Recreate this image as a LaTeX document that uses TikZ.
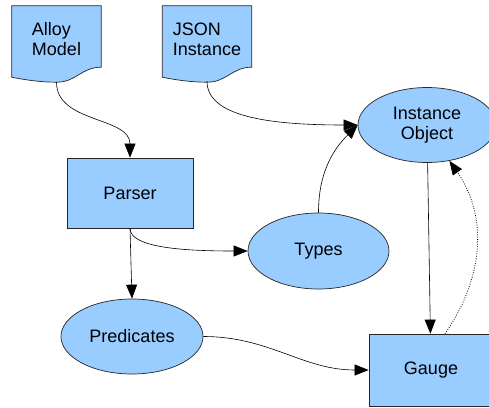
\documentclass[tikz,border=0pt]{standalone}
\usepackage{fontspec}
\setmainfont{Liberation Sans}
\usetikzlibrary{shapes.geometric,arrows.meta,backgrounds}
\definecolor{boxblue}{HTML}{99CCFF}
\tikzset
{
    docnode/.style  = {rectangle, align=left, inner sep=0pt, minimum width=89pt, minimum height=66pt},
    docline/.style  = {draw=black!85, fill=boxblue, line width=0.7pt},
    procnode/.style = {rectangle, draw=black!85, fill=boxblue, line width=0.7pt, align=center, inner sep=0pt},
    datanode/.style = {ellipse, draw=black!85, fill=boxblue, line width=0.7pt, align=center, inner sep=0pt},
    flow/.style     = {-{Triangle[length=14pt,width=11pt]}, line width=0.6pt},
    dots/.style     = {line width=0.8pt, dash pattern=on 0.8pt off 1.6pt}
}
% page shape with a wavy lower edge, drawn behind a docnode
\newcommand{\docshape}[1]{
\draw[docline] (#1.north west) -- (#1.north east) -- ([shift={(0,5)}]#1.south east)
	.. controls ([shift={(-20,5)}]#1.south east) and ([shift={(20,-10)}]#1.south) .. ([shift={(0,-10)}]#1.south)
	.. controls ([shift={(-15,-10)}]#1.south) and ([shift={(15,-8)}]#1.south west) .. ([shift={(0,-5)}]#1.south west) -- cycle;
}

\begin{document}
\begin{tikzpicture}[x=1pt, y=1pt, every node/.style={font=\fontsize{18}{20}\selectfont}]
\useasboundingbox (0,0) rectangle (489,-407);

\node (alloy)	[docnode]										at (56.5,-39)		{Alloy \\ Model};
\node (json)	[docnode]										at (207,-39)		{JSON \\ Instance};
\node (parser)	[procnode,minimum width=126pt,minimum height=70pt]	at (130,-193)		{Parser};
\node (types)	[datanode,minimum width=141pt,minimum height=76pt]	at (318.5,-251)		{Types};
\node (inst)	[datanode,minimum width=138pt,minimum height=75pt]	at (427,-125)		{Instance \\ Object};
\node (preds)	[datanode,minimum width=142pt,minimum height=75pt]	at (132,-336.5)		{Predicates};
\node (gauge)	[procnode,minimum width=124pt,minimum height=72pt]	at (431,-370)		{Gauge};

\begin{scope}[on background layer]
\docshape{alloy}
\docshape{json}
\end{scope}

\coordinate (alloyout)	at ([yshift=-10pt]alloy.south);
\coordinate (jsonout)	at ([yshift=-9pt]json.south);

\path[flow]
(alloyout)		edge[out=-90,in=90]							(parser.north)
(jsonout)		edge[out=-90,in=180,out distance=35pt,in distance=90pt]	(inst.west)
(types.north)	edge[out=90,in=-135]						(inst.west)
(parser.south)	edge[out=-90,in=180,out distance=20pt,in distance=60pt]	(types.west)
(parser.south)	edge											(preds.north)
(preds.east)	edge[out=0,in=180]							(gauge.west)
(inst)			edge											(gauge)
(gauge.69)		edge[dots,out=55,in=-55]					(inst.-58);

\end{tikzpicture}
\end{document}
